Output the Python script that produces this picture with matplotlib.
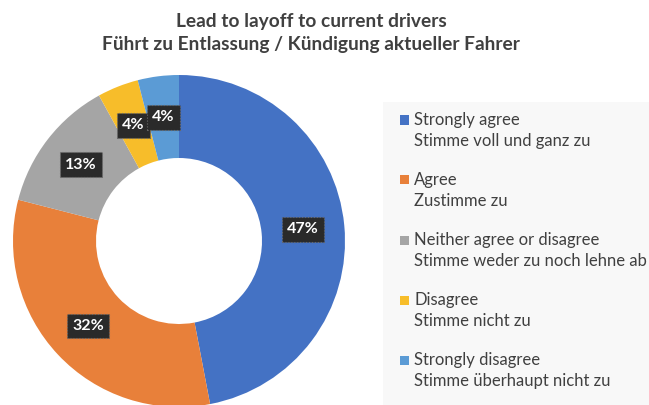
import matplotlib.pyplot as plt
from matplotlib.patches import Rectangle

plt.rcParams['font.family'] = ['Lato', 'DejaVu Sans']

# answer categories (english / german) and shares in percent
labels_en = ['Strongly agree', 'Agree', 'Neither agree or disagree', 'Disagree', 'Strongly disagree']
labels_de = ['Stimme voll und ganz zu', 'Zustimme zu', 'Stimme weder zu noch lehne ab',
             'Stimme nicht zu', 'Stimme überhaupt nicht zu']
shares = [47, 32, 13, 4, 4]
colors = ['#4472C4', '#E8803A', '#A5A5A5', '#F7BD2A', '#5B9BD5']

title = 'Lead to layoff to current drivers\nFührt zu Entlassung / Kündigung aktueller Fahrer'

W, H = 649, 405
fig = plt.figure(figsize=(W / 100, H / 100), dpi=100)
fig.patch.set_facecolor('white')

# light grey panel behind the legend
fig.patches.append(Rectangle((383 / W, 0), 1 - 383 / W, 1 - 102 / H,
                             transform=fig.transFigure, fc='#F8F8F8', ec='none', zorder=0))

# donut: centre ~(179, 241) px, outer radius ~166 px
ax = fig.add_axes([13 / W, -2 / H, 332 / W, 332 / H])
wedges, texts, autotexts = ax.pie(
    shares, colors=colors, startangle=90, counterclock=False, radius=1,
    wedgeprops=dict(width=0.5, edgecolor='none'),
    autopct='%d%%', pctdistance=0.75,
    textprops=dict(color='white', fontsize=11.5, fontweight='bold'))
for t in autotexts:
    t.set_bbox(dict(boxstyle='square,pad=0.33', fc='#2a2a2a', ec='#6a6a6a', lw=0.8, ls=':'))
ax.set_xlim(-1, 1)
ax.set_ylim(-1, 1)
ax.set_aspect('equal')
ax.axis('off')

fig.text(311 / W, 1 - 33 / H, title, ha='center', va='center', fontsize=13.8,
         fontweight='bold', color='#404040', linespacing=1.45)

# legend drawn by hand: square marker + two lines of text
for i, (en, de) in enumerate(zip(labels_en, labels_de)):
    y = 120 + i * 60
    fig.patches.append(Rectangle((400 / W, 1 - (y + 4.5) / H), 9 / W, 9 / H,
                                 transform=fig.transFigure, fc=colors[i], ec='none'))
    fig.text(414 / W, 1 - y / H, en, ha='left', va='center', fontsize=12, color='#404040')
    fig.text(414 / W, 1 - (y + 21) / H, de, ha='left', va='center', fontsize=12, color='#404040')

fig.savefig('out.png', dpi=100)
